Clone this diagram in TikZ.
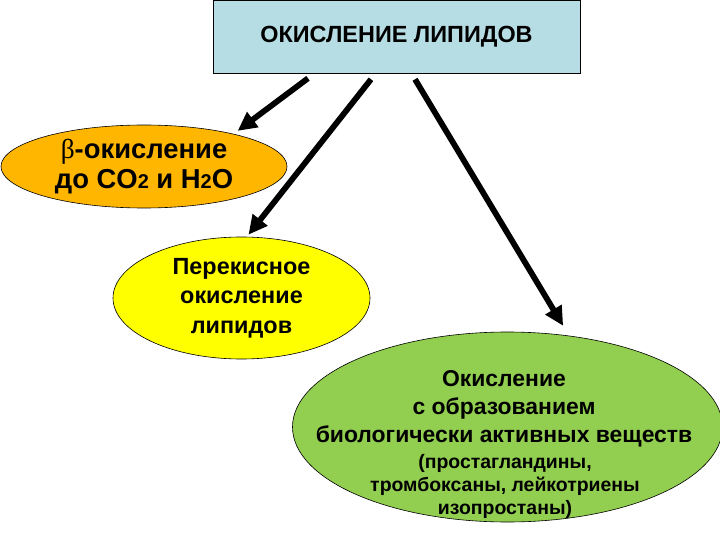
\documentclass[tikz,border=0pt]{standalone}
\usepackage{fontspec}
\setmainfont{Liberation Sans}
\newfontfamily\grfont{Liberation Serif}
\usetikzlibrary{shapes.geometric,arrows.meta}
\definecolor{boxblue}{RGB}{183,221,228}
\definecolor{ovorange}{RGB}{255,182,0}
\definecolor{ovyellow}{RGB}{255,255,0}
\definecolor{ovgreen}{RGB}{146,206,80}
\begin{document}
\begin{tikzpicture}[x=1bp, y=-1bp, >={Triangle[length=19bp,width=18bp]},
		oval/.style={ellipse, draw=black, line width=0.6bp, inner sep=0pt, align=center},
		fat/.style={->, line width=5.8bp}]
		\useasboundingbox (0,0) rectangle (720,540);
		% title box
		\node[draw, line width=0.6bp, fill=boxblue, minimum width=367bp, minimum height=73bp,
			font=\bfseries\fontsize{23.5}{27}\selectfont] (title) at (396.5,36.5) {ОКИСЛЕНИЕ ЛИПИДОВ};
		% ovals
		\node[oval, fill=ovorange, minimum width=286bp, minimum height=83bp,
			font=\bfseries\fontsize{27.5}{30}\selectfont] (beta) at (144,166.5)
			{{\grfont\mdseries β}-окисление\\до CO{\fontsize{20}{20}\selectfont 2} и H{\fontsize{20}{20}\selectfont 2}O};
		\node[oval, fill=ovyellow, minimum width=257bp, minimum height=122bp,
			font=\bfseries\fontsize{23.5}{29.5}\selectfont] (perox) at (241.5,298)
			{Перекисное\\окисление\\липидов};
		\node[oval, fill=ovgreen, minimum width=430bp, minimum height=190bp] (bio) at (507.5,427) {};
		\node[align=center, font=\bfseries\fontsize{23}{28}\selectfont] (biotxt) at (504,409)
			{Окисление\\с образованием\\биологически активных веществ};
		\node[align=center, font=\bfseries\fontsize{19.5}{23.5}\selectfont] (biolist) at (505,486.5)
			{(простагландины,\\тромбоксаны, лейкотриены\\изопростаны)};
		% arrows from the title
		\coordinate (s1) at ([xshift=-88.5bp,yshift=-5bp]title.south);
		\coordinate (s2) at ([xshift=-25.5bp,yshift=-6bp]title.south);
		\coordinate (s3) at ([xshift=18.5bp,yshift=-6bp]title.south);
		\draw[fat, shorten >=5bp] (s1) -- (beta.20);
		\draw[fat, shorten >=2.6bp] (s2) -- (perox.85.4);
		\draw[fat, shorten >=11.5bp] (s3) -- (bio.56);
	\end{tikzpicture}
\end{document}
